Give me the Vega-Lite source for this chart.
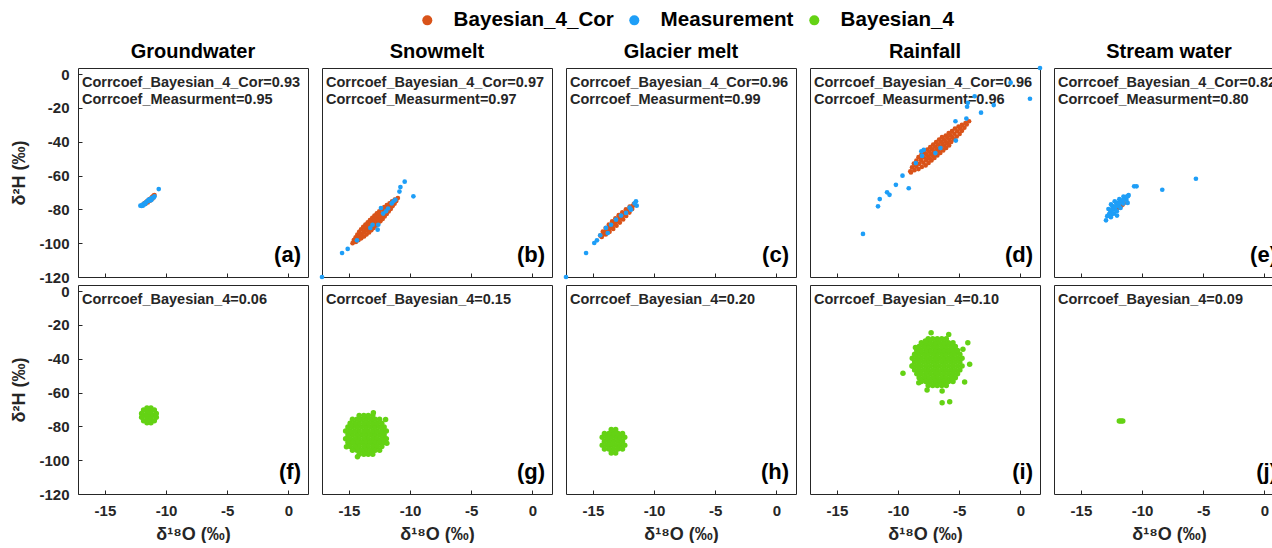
{
"$schema":"https://vega.github.io/schema/vega-lite/v6.json",
"padding":{"left":10,"top":10,"right":0,"bottom":0},
"config":{"font":"Liberation Sans","view":{"stroke":"#262626","strokeWidth":1},
"axis":{"grid":false,"domain":false,"labelFontSize":15,"labelFontWeight":"bold","labelColor":"#262626","labelFlush":false,"labelOverlap":false,"tickSize":-4,"tickColor":"#262626","labelPadding":13,"titleFontSize":18,"titleFontWeight":"bold","titleColor":"#262626"},
"axisY":{"titlePadding":10},"axisX":{"titlePadding":7}},
"datasets":{"d":[
{"source":"Groundwater","series":"Bayesian_4_Cor","x":-11.85,"y":-77.0},
{"source":"Groundwater","series":"Bayesian_4_Cor","x":-11.75,"y":-76.3},
{"source":"Groundwater","series":"Bayesian_4_Cor","x":-11.7,"y":-76.8},
{"source":"Groundwater","series":"Bayesian_4_Cor","x":-11.6,"y":-75.6},
{"source":"Groundwater","series":"Bayesian_4_Cor","x":-11.55,"y":-75.2},
{"source":"Groundwater","series":"Bayesian_4_Cor","x":-11.5,"y":-75.9},
{"source":"Groundwater","series":"Bayesian_4_Cor","x":-11.4,"y":-74.6},
{"source":"Groundwater","series":"Bayesian_4_Cor","x":-11.35,"y":-74.0},
{"source":"Groundwater","series":"Bayesian_4_Cor","x":-11.3,"y":-74.8},
{"source":"Groundwater","series":"Bayesian_4_Cor","x":-11.2,"y":-73.4},
{"source":"Groundwater","series":"Bayesian_4_Cor","x":-11.15,"y":-72.8},
{"source":"Groundwater","series":"Bayesian_4_Cor","x":-11.1,"y":-73.6},
{"source":"Groundwater","series":"Bayesian_4_Cor","x":-11.05,"y":-72.2},
{"source":"Groundwater","series":"Bayesian_4_Cor","x":-10.95,"y":-71.5},
{"source":"Groundwater","series":"Bayesian_4_Cor","x":-11.0,"y":-71.9},
{"source":"Groundwater","series":"Measurement","x":-10.6,"y":-68.0},
{"source":"Groundwater","series":"Measurement","x":-10.95,"y":-72.3},
{"source":"Groundwater","series":"Measurement","x":-11.15,"y":-73.2},
{"source":"Groundwater","series":"Measurement","x":-11.3,"y":-74.0},
{"source":"Groundwater","series":"Measurement","x":-11.45,"y":-74.4},
{"source":"Groundwater","series":"Measurement","x":-11.55,"y":-75.4},
{"source":"Groundwater","series":"Measurement","x":-11.65,"y":-75.8},
{"source":"Groundwater","series":"Measurement","x":-11.8,"y":-76.6},
{"source":"Groundwater","series":"Measurement","x":-11.95,"y":-77.3},
{"source":"Groundwater","series":"Measurement","x":-12.1,"y":-77.8},
{"source":"Groundwater","series":"Measurement","x":-12.0,"y":-78.0},
{"source":"Groundwater","series":"Measurement","x":-11.9,"y":-77.8},
{"source":"Groundwater","series":"Measurement","x":-11.4,"y":-75.0},
{"source":"Groundwater","series":"Measurement","x":-11.2,"y":-74.5},
{"source":"Groundwater","series":"Measurement","x":-11.0,"y":-73.0},
{"source":"Groundwater","series":"Measurement","x":-11.7,"y":-76.9},
{"source":"Snowmelt","series":"Bayesian_4_Cor","x":-14.70,"y":-100.00},
{"source":"Snowmelt","series":"Bayesian_4_Cor","x":-14.60,"y":-98.11},
{"source":"Snowmelt","series":"Bayesian_4_Cor","x":-14.43,"y":-99.23},
{"source":"Snowmelt","series":"Bayesian_4_Cor","x":-14.45,"y":-96.49},
{"source":"Snowmelt","series":"Bayesian_4_Cor","x":-14.33,"y":-97.33},
{"source":"Snowmelt","series":"Bayesian_4_Cor","x":-14.21,"y":-98.17},
{"source":"Snowmelt","series":"Bayesian_4_Cor","x":-14.31,"y":-94.88},
{"source":"Snowmelt","series":"Bayesian_4_Cor","x":-14.15,"y":-96.00},
{"source":"Snowmelt","series":"Bayesian_4_Cor","x":-13.99,"y":-97.12},
{"source":"Snowmelt","series":"Bayesian_4_Cor","x":-14.16,"y":-93.26},
{"source":"Snowmelt","series":"Bayesian_4_Cor","x":-13.96,"y":-94.66},
{"source":"Snowmelt","series":"Bayesian_4_Cor","x":-13.76,"y":-96.06},
{"source":"Snowmelt","series":"Bayesian_4_Cor","x":-14.00,"y":-91.79},
{"source":"Snowmelt","series":"Bayesian_4_Cor","x":-13.78,"y":-93.33},
{"source":"Snowmelt","series":"Bayesian_4_Cor","x":-13.56,"y":-94.87},
{"source":"Snowmelt","series":"Bayesian_4_Cor","x":-13.83,"y":-90.31},
{"source":"Snowmelt","series":"Bayesian_4_Cor","x":-13.67,"y":-91.43},
{"source":"Snowmelt","series":"Bayesian_4_Cor","x":-13.51,"y":-92.55},
{"source":"Snowmelt","series":"Bayesian_4_Cor","x":-13.35,"y":-93.67},
{"source":"Snowmelt","series":"Bayesian_4_Cor","x":-13.65,"y":-88.98},
{"source":"Snowmelt","series":"Bayesian_4_Cor","x":-13.49,"y":-90.10},
{"source":"Snowmelt","series":"Bayesian_4_Cor","x":-13.33,"y":-91.22},
{"source":"Snowmelt","series":"Bayesian_4_Cor","x":-13.17,"y":-92.34},
{"source":"Snowmelt","series":"Bayesian_4_Cor","x":-13.46,"y":-87.64},
{"source":"Snowmelt","series":"Bayesian_4_Cor","x":-13.30,"y":-88.76},
{"source":"Snowmelt","series":"Bayesian_4_Cor","x":-13.14,"y":-89.88},
{"source":"Snowmelt","series":"Bayesian_4_Cor","x":-12.98,"y":-91.00},
{"source":"Snowmelt","series":"Bayesian_4_Cor","x":-13.28,"y":-86.31},
{"source":"Snowmelt","series":"Bayesian_4_Cor","x":-13.12,"y":-87.43},
{"source":"Snowmelt","series":"Bayesian_4_Cor","x":-12.96,"y":-88.55},
{"source":"Snowmelt","series":"Bayesian_4_Cor","x":-12.80,"y":-89.67},
{"source":"Snowmelt","series":"Bayesian_4_Cor","x":-13.09,"y":-84.97},
{"source":"Snowmelt","series":"Bayesian_4_Cor","x":-12.93,"y":-86.09},
{"source":"Snowmelt","series":"Bayesian_4_Cor","x":-12.77,"y":-87.21},
{"source":"Snowmelt","series":"Bayesian_4_Cor","x":-12.61,"y":-88.33},
{"source":"Snowmelt","series":"Bayesian_4_Cor","x":-12.91,"y":-83.64},
{"source":"Snowmelt","series":"Bayesian_4_Cor","x":-12.75,"y":-84.76},
{"source":"Snowmelt","series":"Bayesian_4_Cor","x":-12.59,"y":-85.88},
{"source":"Snowmelt","series":"Bayesian_4_Cor","x":-12.43,"y":-87.00},
{"source":"Snowmelt","series":"Bayesian_4_Cor","x":-12.72,"y":-82.30},
{"source":"Snowmelt","series":"Bayesian_4_Cor","x":-12.56,"y":-83.42},
{"source":"Snowmelt","series":"Bayesian_4_Cor","x":-12.40,"y":-84.54},
{"source":"Snowmelt","series":"Bayesian_4_Cor","x":-12.24,"y":-85.66},
{"source":"Snowmelt","series":"Bayesian_4_Cor","x":-12.52,"y":-81.11},
{"source":"Snowmelt","series":"Bayesian_4_Cor","x":-12.30,"y":-82.65},
{"source":"Snowmelt","series":"Bayesian_4_Cor","x":-12.08,"y":-84.19},
{"source":"Snowmelt","series":"Bayesian_4_Cor","x":-12.31,"y":-79.91},
{"source":"Snowmelt","series":"Bayesian_4_Cor","x":-12.11,"y":-81.31},
{"source":"Snowmelt","series":"Bayesian_4_Cor","x":-11.91,"y":-82.71},
{"source":"Snowmelt","series":"Bayesian_4_Cor","x":-12.11,"y":-78.72},
{"source":"Snowmelt","series":"Bayesian_4_Cor","x":-11.93,"y":-79.98},
{"source":"Snowmelt","series":"Bayesian_4_Cor","x":-11.75,"y":-81.24},
{"source":"Snowmelt","series":"Bayesian_4_Cor","x":-11.90,"y":-77.52},
{"source":"Snowmelt","series":"Bayesian_4_Cor","x":-11.74,"y":-78.64},
{"source":"Snowmelt","series":"Bayesian_4_Cor","x":-11.58,"y":-79.76},
{"source":"Snowmelt","series":"Bayesian_4_Cor","x":-11.68,"y":-76.47},
{"source":"Snowmelt","series":"Bayesian_4_Cor","x":-11.56,"y":-77.31},
{"source":"Snowmelt","series":"Bayesian_4_Cor","x":-11.44,"y":-78.15},
{"source":"Snowmelt","series":"Bayesian_4_Cor","x":-11.47,"y":-75.27},
{"source":"Snowmelt","series":"Bayesian_4_Cor","x":-11.27,"y":-76.67},
{"source":"Snowmelt","series":"Bayesian_4_Cor","x":-11.25,"y":-74.22},
{"source":"Snowmelt","series":"Bayesian_4_Cor","x":-11.13,"y":-75.06},
{"source":"Snowmelt","series":"Bayesian_4_Cor","x":-11.00,"y":-73.30},
{"source":"Snowmelt","series":"Measurement","x":-10.44,"y":-63.6},
{"source":"Snowmelt","series":"Measurement","x":-10.79,"y":-66.8},
{"source":"Snowmelt","series":"Measurement","x":-10.87,"y":-69.5},
{"source":"Snowmelt","series":"Measurement","x":-9.73,"y":-72.3},
{"source":"Snowmelt","series":"Measurement","x":-11.2,"y":-74.3},
{"source":"Snowmelt","series":"Measurement","x":-12.38,"y":-79.2},
{"source":"Snowmelt","series":"Measurement","x":-11.97,"y":-81.1},
{"source":"Snowmelt","series":"Measurement","x":-12.6,"y":-89.1},
{"source":"Snowmelt","series":"Measurement","x":-12.65,"y":-92.0},
{"source":"Snowmelt","series":"Measurement","x":-13.07,"y":-89.1},
{"source":"Snowmelt","series":"Measurement","x":-13.25,"y":-91.0},
{"source":"Snowmelt","series":"Measurement","x":-14.34,"y":-98.3},
{"source":"Snowmelt","series":"Measurement","x":-15.1,"y":-103.4},
{"source":"Snowmelt","series":"Measurement","x":-15.56,"y":-105.8},
{"source":"Snowmelt","series":"Measurement","x":-17.2,"y":-120},
{"source":"Snowmelt","series":"Measurement","x":-11.8,"y":-79.5},
{"source":"Snowmelt","series":"Measurement","x":-12.2,"y":-82.5},
{"source":"Snowmelt","series":"Measurement","x":-11.5,"y":-76.5},
{"source":"Snowmelt","series":"Measurement","x":-11.35,"y":-75.2},
{"source":"Glacier melt","series":"Bayesian_4_Cor","x":-14.40,"y":-95.48},
{"source":"Glacier melt","series":"Bayesian_4_Cor","x":-14.28,"y":-96.32},
{"source":"Glacier melt","series":"Bayesian_4_Cor","x":-14.19,"y":-93.19},
{"source":"Glacier melt","series":"Bayesian_4_Cor","x":-14.07,"y":-94.03},
{"source":"Glacier melt","series":"Bayesian_4_Cor","x":-13.95,"y":-94.87},
{"source":"Glacier melt","series":"Bayesian_4_Cor","x":-13.96,"y":-91.04},
{"source":"Glacier melt","series":"Bayesian_4_Cor","x":-13.80,"y":-92.16},
{"source":"Glacier melt","series":"Bayesian_4_Cor","x":-13.64,"y":-93.28},
{"source":"Glacier melt","series":"Bayesian_4_Cor","x":-13.70,"y":-89.03},
{"source":"Glacier melt","series":"Bayesian_4_Cor","x":-13.58,"y":-89.87},
{"source":"Glacier melt","series":"Bayesian_4_Cor","x":-13.46,"y":-90.71},
{"source":"Glacier melt","series":"Bayesian_4_Cor","x":-13.34,"y":-91.55},
{"source":"Glacier melt","series":"Bayesian_4_Cor","x":-13.43,"y":-87.16},
{"source":"Glacier melt","series":"Bayesian_4_Cor","x":-13.31,"y":-88.00},
{"source":"Glacier melt","series":"Bayesian_4_Cor","x":-13.19,"y":-88.84},
{"source":"Glacier melt","series":"Bayesian_4_Cor","x":-13.07,"y":-89.68},
{"source":"Glacier melt","series":"Bayesian_4_Cor","x":-13.16,"y":-85.29},
{"source":"Glacier melt","series":"Bayesian_4_Cor","x":-13.04,"y":-86.13},
{"source":"Glacier melt","series":"Bayesian_4_Cor","x":-12.92,"y":-86.97},
{"source":"Glacier melt","series":"Bayesian_4_Cor","x":-12.80,"y":-87.81},
{"source":"Glacier melt","series":"Bayesian_4_Cor","x":-12.89,"y":-83.42},
{"source":"Glacier melt","series":"Bayesian_4_Cor","x":-12.77,"y":-84.26},
{"source":"Glacier melt","series":"Bayesian_4_Cor","x":-12.65,"y":-85.10},
{"source":"Glacier melt","series":"Bayesian_4_Cor","x":-12.53,"y":-85.94},
{"source":"Glacier melt","series":"Bayesian_4_Cor","x":-12.60,"y":-81.69},
{"source":"Glacier melt","series":"Bayesian_4_Cor","x":-12.44,"y":-82.81},
{"source":"Glacier melt","series":"Bayesian_4_Cor","x":-12.28,"y":-83.93},
{"source":"Glacier melt","series":"Bayesian_4_Cor","x":-12.30,"y":-79.96},
{"source":"Glacier melt","series":"Bayesian_4_Cor","x":-12.16,"y":-80.94},
{"source":"Glacier melt","series":"Bayesian_4_Cor","x":-12.02,"y":-81.92},
{"source":"Glacier melt","series":"Bayesian_4_Cor","x":-11.99,"y":-78.37},
{"source":"Glacier melt","series":"Bayesian_4_Cor","x":-11.79,"y":-79.77},
{"source":"Glacier melt","series":"Bayesian_4_Cor","x":-11.62,"y":-77.20},
{"source":"Glacier melt","series":"Bayesian_4_Cor","x":-11.66,"y":-76.90},
{"source":"Glacier melt","series":"Bayesian_4_Cor","x":-14.20,"y":-94.97},
{"source":"Glacier melt","series":"Bayesian_4_Cor","x":-13.93,"y":-93.10},
{"source":"Glacier melt","series":"Bayesian_4_Cor","x":-13.66,"y":-91.23},
{"source":"Glacier melt","series":"Bayesian_4_Cor","x":-13.39,"y":-89.36},
{"source":"Glacier melt","series":"Bayesian_4_Cor","x":-13.12,"y":-87.49},
{"source":"Glacier melt","series":"Bayesian_4_Cor","x":-12.84,"y":-85.62},
{"source":"Glacier melt","series":"Bayesian_4_Cor","x":-12.57,"y":-83.75},
{"source":"Glacier melt","series":"Bayesian_4_Cor","x":-12.30,"y":-81.88},
{"source":"Glacier melt","series":"Bayesian_4_Cor","x":-12.03,"y":-80.01},
{"source":"Glacier melt","series":"Bayesian_4_Cor","x":-11.76,"y":-78.14},
{"source":"Glacier melt","series":"Measurement","x":-15.56,"y":-105.8},
{"source":"Glacier melt","series":"Measurement","x":-14.89,"y":-99.9},
{"source":"Glacier melt","series":"Measurement","x":-14.67,"y":-98.3},
{"source":"Glacier melt","series":"Measurement","x":-14.40,"y":-95.3},
{"source":"Glacier melt","series":"Measurement","x":-13.93,"y":-91.0},
{"source":"Glacier melt","series":"Measurement","x":-13.52,"y":-89.1},
{"source":"Glacier melt","series":"Measurement","x":-13.11,"y":-86.1},
{"source":"Glacier melt","series":"Measurement","x":-12.70,"y":-83.7},
{"source":"Glacier melt","series":"Measurement","x":-12.29,"y":-82.1},
{"source":"Glacier melt","series":"Measurement","x":-11.89,"y":-80.2},
{"source":"Glacier melt","series":"Measurement","x":-11.48,"y":-75.2},
{"source":"Glacier melt","series":"Measurement","x":-11.42,"y":-77.8},
{"source":"Glacier melt","series":"Measurement","x":-13.79,"y":-94.0},
{"source":"Glacier melt","series":"Measurement","x":-17.2,"y":-120},
{"source":"Glacier melt","series":"Measurement","x":-12.0,"y":-79.0},
{"source":"Glacier melt","series":"Measurement","x":-11.6,"y":-76.5},
{"source":"Rainfall","series":"Bayesian_4_Cor","x":-9.00,"y":-57.50},
{"source":"Rainfall","series":"Bayesian_4_Cor","x":-8.95,"y":-58.20},
{"source":"Rainfall","series":"Bayesian_4_Cor","x":-8.86,"y":-55.21},
{"source":"Rainfall","series":"Bayesian_4_Cor","x":-8.66,"y":-56.83},
{"source":"Rainfall","series":"Bayesian_4_Cor","x":-8.71,"y":-52.92},
{"source":"Rainfall","series":"Bayesian_4_Cor","x":-8.52,"y":-54.54},
{"source":"Rainfall","series":"Bayesian_4_Cor","x":-8.33,"y":-56.16},
{"source":"Rainfall","series":"Bayesian_4_Cor","x":-8.50,"y":-51.17},
{"source":"Rainfall","series":"Bayesian_4_Cor","x":-8.28,"y":-53.06},
{"source":"Rainfall","series":"Bayesian_4_Cor","x":-8.06,"y":-54.95},
{"source":"Rainfall","series":"Bayesian_4_Cor","x":-8.33,"y":-49.15},
{"source":"Rainfall","series":"Bayesian_4_Cor","x":-8.14,"y":-50.77},
{"source":"Rainfall","series":"Bayesian_4_Cor","x":-7.94,"y":-52.39},
{"source":"Rainfall","series":"Bayesian_4_Cor","x":-7.75,"y":-54.01},
{"source":"Rainfall","series":"Bayesian_4_Cor","x":-8.09,"y":-47.67},
{"source":"Rainfall","series":"Bayesian_4_Cor","x":-7.90,"y":-49.29},
{"source":"Rainfall","series":"Bayesian_4_Cor","x":-7.70,"y":-50.91},
{"source":"Rainfall","series":"Bayesian_4_Cor","x":-7.51,"y":-52.53},
{"source":"Rainfall","series":"Bayesian_4_Cor","x":-7.85,"y":-46.19},
{"source":"Rainfall","series":"Bayesian_4_Cor","x":-7.70,"y":-47.40},
{"source":"Rainfall","series":"Bayesian_4_Cor","x":-7.56,"y":-48.62},
{"source":"Rainfall","series":"Bayesian_4_Cor","x":-7.42,"y":-49.84},
{"source":"Rainfall","series":"Bayesian_4_Cor","x":-7.27,"y":-51.05},
{"source":"Rainfall","series":"Bayesian_4_Cor","x":-7.61,"y":-44.71},
{"source":"Rainfall","series":"Bayesian_4_Cor","x":-7.46,"y":-45.92},
{"source":"Rainfall","series":"Bayesian_4_Cor","x":-7.32,"y":-47.14},
{"source":"Rainfall","series":"Bayesian_4_Cor","x":-7.18,"y":-48.36},
{"source":"Rainfall","series":"Bayesian_4_Cor","x":-7.03,"y":-49.57},
{"source":"Rainfall","series":"Bayesian_4_Cor","x":-7.37,"y":-43.23},
{"source":"Rainfall","series":"Bayesian_4_Cor","x":-7.22,"y":-44.44},
{"source":"Rainfall","series":"Bayesian_4_Cor","x":-7.08,"y":-45.66},
{"source":"Rainfall","series":"Bayesian_4_Cor","x":-6.94,"y":-46.88},
{"source":"Rainfall","series":"Bayesian_4_Cor","x":-6.79,"y":-48.09},
{"source":"Rainfall","series":"Bayesian_4_Cor","x":-7.13,"y":-41.75},
{"source":"Rainfall","series":"Bayesian_4_Cor","x":-6.98,"y":-42.96},
{"source":"Rainfall","series":"Bayesian_4_Cor","x":-6.84,"y":-44.18},
{"source":"Rainfall","series":"Bayesian_4_Cor","x":-6.70,"y":-45.40},
{"source":"Rainfall","series":"Bayesian_4_Cor","x":-6.55,"y":-46.61},
{"source":"Rainfall","series":"Bayesian_4_Cor","x":-6.89,"y":-40.27},
{"source":"Rainfall","series":"Bayesian_4_Cor","x":-6.74,"y":-41.48},
{"source":"Rainfall","series":"Bayesian_4_Cor","x":-6.60,"y":-42.70},
{"source":"Rainfall","series":"Bayesian_4_Cor","x":-6.46,"y":-43.92},
{"source":"Rainfall","series":"Bayesian_4_Cor","x":-6.31,"y":-45.13},
{"source":"Rainfall","series":"Bayesian_4_Cor","x":-6.65,"y":-38.79},
{"source":"Rainfall","series":"Bayesian_4_Cor","x":-6.50,"y":-40.00},
{"source":"Rainfall","series":"Bayesian_4_Cor","x":-6.36,"y":-41.22},
{"source":"Rainfall","series":"Bayesian_4_Cor","x":-6.22,"y":-42.44},
{"source":"Rainfall","series":"Bayesian_4_Cor","x":-6.07,"y":-43.65},
{"source":"Rainfall","series":"Bayesian_4_Cor","x":-6.41,"y":-37.31},
{"source":"Rainfall","series":"Bayesian_4_Cor","x":-6.26,"y":-38.52},
{"source":"Rainfall","series":"Bayesian_4_Cor","x":-6.12,"y":-39.74},
{"source":"Rainfall","series":"Bayesian_4_Cor","x":-5.98,"y":-40.96},
{"source":"Rainfall","series":"Bayesian_4_Cor","x":-5.83,"y":-42.17},
{"source":"Rainfall","series":"Bayesian_4_Cor","x":-6.10,"y":-36.37},
{"source":"Rainfall","series":"Bayesian_4_Cor","x":-5.96,"y":-37.58},
{"source":"Rainfall","series":"Bayesian_4_Cor","x":-5.80,"y":-38.94},
{"source":"Rainfall","series":"Bayesian_4_Cor","x":-5.66,"y":-40.15},
{"source":"Rainfall","series":"Bayesian_4_Cor","x":-5.86,"y":-34.89},
{"source":"Rainfall","series":"Bayesian_4_Cor","x":-5.72,"y":-36.10},
{"source":"Rainfall","series":"Bayesian_4_Cor","x":-5.56,"y":-37.46},
{"source":"Rainfall","series":"Bayesian_4_Cor","x":-5.42,"y":-38.67},
{"source":"Rainfall","series":"Bayesian_4_Cor","x":-5.59,"y":-33.68},
{"source":"Rainfall","series":"Bayesian_4_Cor","x":-5.40,"y":-35.30},
{"source":"Rainfall","series":"Bayesian_4_Cor","x":-5.21,"y":-36.92},
{"source":"Rainfall","series":"Bayesian_4_Cor","x":-5.35,"y":-32.20},
{"source":"Rainfall","series":"Bayesian_4_Cor","x":-5.16,"y":-33.82},
{"source":"Rainfall","series":"Bayesian_4_Cor","x":-4.97,"y":-35.44},
{"source":"Rainfall","series":"Bayesian_4_Cor","x":-5.06,"y":-31.12},
{"source":"Rainfall","series":"Bayesian_4_Cor","x":-4.92,"y":-32.34},
{"source":"Rainfall","series":"Bayesian_4_Cor","x":-4.78,"y":-33.56},
{"source":"Rainfall","series":"Bayesian_4_Cor","x":-4.78,"y":-30.05},
{"source":"Rainfall","series":"Bayesian_4_Cor","x":-4.58,"y":-31.67},
{"source":"Rainfall","series":"Bayesian_4_Cor","x":-4.49,"y":-29.00},
{"source":"Rainfall","series":"Bayesian_4_Cor","x":-4.39,"y":-29.80},
{"source":"Rainfall","series":"Bayesian_4_Cor","x":-4.20,"y":-27.90},
{"source":"Rainfall","series":"Measurement","x":-12.87,"y":-94.5},
{"source":"Rainfall","series":"Measurement","x":-11.64,"y":-78.2},
{"source":"Rainfall","series":"Measurement","x":-11.5,"y":-73.9},
{"source":"Rainfall","series":"Measurement","x":-10.9,"y":-69.9},
{"source":"Rainfall","series":"Measurement","x":-10.7,"y":-71.4},
{"source":"Rainfall","series":"Measurement","x":-10.18,"y":-65.5},
{"source":"Rainfall","series":"Measurement","x":-9.64,"y":-60.1},
{"source":"Rainfall","series":"Measurement","x":-9.13,"y":-67.5},
{"source":"Rainfall","series":"Measurement","x":-8.55,"y":-52.6},
{"source":"Rainfall","series":"Measurement","x":-8.1,"y":-45.7},
{"source":"Rainfall","series":"Measurement","x":-8.04,"y":-48.4},
{"source":"Rainfall","series":"Measurement","x":-7.9,"y":-44.8},
{"source":"Rainfall","series":"Measurement","x":-6.95,"y":-46.7},
{"source":"Rainfall","series":"Measurement","x":-6.54,"y":-43.7},
{"source":"Rainfall","series":"Measurement","x":-5.31,"y":-27.9},
{"source":"Rainfall","series":"Measurement","x":-5.28,"y":-39.3},
{"source":"Rainfall","series":"Measurement","x":-4.42,"y":-26.3},
{"source":"Rainfall","series":"Measurement","x":-4.36,"y":-19.3},
{"source":"Rainfall","series":"Measurement","x":-4.3,"y":-17.0},
{"source":"Rainfall","series":"Measurement","x":-3.74,"y":-13.1},
{"source":"Rainfall","series":"Measurement","x":-3.22,"y":-22.8},
{"source":"Rainfall","series":"Measurement","x":-2.18,"y":-18.3},
{"source":"Rainfall","series":"Measurement","x":-0.8,"y":-5.1},
{"source":"Rainfall","series":"Measurement","x":0.78,"y":-14.6},
{"source":"Rainfall","series":"Measurement","x":1.6,"y":3.6},
{"source":"Stream water","series":"Bayesian_4_Cor","x":-11.6,"y":-77.2},
{"source":"Stream water","series":"Bayesian_4_Cor","x":-11.8,"y":-78.3},
{"source":"Stream water","series":"Bayesian_4_Cor","x":-11.5,"y":-76.4},
{"source":"Stream water","series":"Bayesian_4_Cor","x":-11.9,"y":-79.0},
{"source":"Stream water","series":"Bayesian_4_Cor","x":-11.7,"y":-77.8},
{"source":"Stream water","series":"Measurement","x":-12.95,"y":-86.5},
{"source":"Stream water","series":"Measurement","x":-12.55,"y":-84.6},
{"source":"Stream water","series":"Measurement","x":-12.05,"y":-83.7},
{"source":"Stream water","series":"Measurement","x":-12.5,"y":-83.2},
{"source":"Stream water","series":"Measurement","x":-12.3,"y":-82.5},
{"source":"Stream water","series":"Measurement","x":-12.6,"y":-81.0},
{"source":"Stream water","series":"Measurement","x":-12.75,"y":-79.8},
{"source":"Stream water","series":"Measurement","x":-12.45,"y":-82.2},
{"source":"Stream water","series":"Measurement","x":-12.54,"y":-77.1},
{"source":"Stream water","series":"Measurement","x":-12.42,"y":-78.1},
{"source":"Stream water","series":"Measurement","x":-12.3,"y":-79.1},
{"source":"Stream water","series":"Measurement","x":-12.18,"y":-80.1},
{"source":"Stream water","series":"Measurement","x":-12.06,"y":-81.1},
{"source":"Stream water","series":"Measurement","x":-12.24,"y":-75.2},
{"source":"Stream water","series":"Measurement","x":-12.12,"y":-76.2},
{"source":"Stream water","series":"Measurement","x":-12.0,"y":-77.2},
{"source":"Stream water","series":"Measurement","x":-11.88,"y":-78.2},
{"source":"Stream water","series":"Measurement","x":-11.76,"y":-79.2},
{"source":"Stream water","series":"Measurement","x":-11.86,"y":-74.0},
{"source":"Stream water","series":"Measurement","x":-11.7,"y":-75.3},
{"source":"Stream water","series":"Measurement","x":-11.54,"y":-76.6},
{"source":"Stream water","series":"Measurement","x":-11.8,"y":-74.6},
{"source":"Stream water","series":"Measurement","x":-11.52,"y":-72.4},
{"source":"Stream water","series":"Measurement","x":-11.4,"y":-73.4},
{"source":"Stream water","series":"Measurement","x":-11.28,"y":-74.4},
{"source":"Stream water","series":"Measurement","x":-11.1,"y":-71.5},
{"source":"Stream water","series":"Measurement","x":-11.15,"y":-72.2},
{"source":"Stream water","series":"Measurement","x":-12.45,"y":-80.05},
{"source":"Stream water","series":"Measurement","x":-12.15,"y":-78.15},
{"source":"Stream water","series":"Measurement","x":-11.85,"y":-76.25},
{"source":"Stream water","series":"Measurement","x":-11.55,"y":-74.35},
{"source":"Stream water","series":"Measurement","x":-11.25,"y":-72.45},
{"source":"Stream water","series":"Measurement","x":-11.18,"y":-76.2},
{"source":"Stream water","series":"Measurement","x":-12.7,"y":-82.8},
{"source":"Stream water","series":"Measurement","x":-12.85,"y":-84.0},
{"source":"Stream water","series":"Measurement","x":-10.65,"y":-66.4},
{"source":"Stream water","series":"Measurement","x":-10.45,"y":-66.4},
{"source":"Stream water","series":"Measurement","x":-8.35,"y":-68.4},
{"source":"Stream water","series":"Measurement","x":-5.6,"y":-61.9},
{"source":"Groundwater","series":"Bayesian_4","x":-11.4,"y":-73.5},
{"source":"Groundwater","series":"Bayesian_4","x":-11.07,"y":-73.5},
{"source":"Groundwater","series":"Bayesian_4","x":-11.24,"y":-71.45},
{"source":"Groundwater","series":"Bayesian_4","x":-11.56,"y":-71.45},
{"source":"Groundwater","series":"Bayesian_4","x":-11.73,"y":-73.5},
{"source":"Groundwater","series":"Bayesian_4","x":-11.56,"y":-75.55},
{"source":"Groundwater","series":"Bayesian_4","x":-11.24,"y":-75.55},
{"source":"Groundwater","series":"Bayesian_4","x":-10.80,"y":-72.34},
{"source":"Groundwater","series":"Bayesian_4","x":-10.96,"y":-70.34},
{"source":"Groundwater","series":"Bayesian_4","x":-11.24,"y":-69.18},
{"source":"Groundwater","series":"Bayesian_4","x":-11.56,"y":-69.18},
{"source":"Groundwater","series":"Bayesian_4","x":-11.84,"y":-70.34},
{"source":"Groundwater","series":"Bayesian_4","x":-12.0,"y":-72.34},
{"source":"Groundwater","series":"Bayesian_4","x":-12.0,"y":-74.66},
{"source":"Groundwater","series":"Bayesian_4","x":-11.84,"y":-76.66},
{"source":"Groundwater","series":"Bayesian_4","x":-11.56,"y":-77.82},
{"source":"Groundwater","series":"Bayesian_4","x":-11.24,"y":-77.82},
{"source":"Groundwater","series":"Bayesian_4","x":-10.96,"y":-76.66},
{"source":"Groundwater","series":"Bayesian_4","x":-10.80,"y":-74.66},
{"source":"Snowmelt","series":"Bayesian_4","x":-13.6,"y":-85},
{"source":"Snowmelt","series":"Bayesian_4","x":-13.23,"y":-85},
{"source":"Snowmelt","series":"Bayesian_4","x":-13.97,"y":-85},
{"source":"Snowmelt","series":"Bayesian_4","x":-12.86,"y":-85},
{"source":"Snowmelt","series":"Bayesian_4","x":-14.34,"y":-85},
{"source":"Snowmelt","series":"Bayesian_4","x":-12.49,"y":-85},
{"source":"Snowmelt","series":"Bayesian_4","x":-14.71,"y":-85},
{"source":"Snowmelt","series":"Bayesian_4","x":-12.12,"y":-85},
{"source":"Snowmelt","series":"Bayesian_4","x":-15.08,"y":-85},
{"source":"Snowmelt","series":"Bayesian_4","x":-13.42,"y":-82.7},
{"source":"Snowmelt","series":"Bayesian_4","x":-13.78,"y":-82.7},
{"source":"Snowmelt","series":"Bayesian_4","x":-13.05,"y":-82.7},
{"source":"Snowmelt","series":"Bayesian_4","x":-14.16,"y":-82.7},
{"source":"Snowmelt","series":"Bayesian_4","x":-12.68,"y":-82.7},
{"source":"Snowmelt","series":"Bayesian_4","x":-14.53,"y":-82.7},
{"source":"Snowmelt","series":"Bayesian_4","x":-12.31,"y":-82.7},
{"source":"Snowmelt","series":"Bayesian_4","x":-14.9,"y":-82.7},
{"source":"Snowmelt","series":"Bayesian_4","x":-11.94,"y":-82.7},
{"source":"Snowmelt","series":"Bayesian_4","x":-15.27,"y":-82.7},
{"source":"Snowmelt","series":"Bayesian_4","x":-13.42,"y":-87.3},
{"source":"Snowmelt","series":"Bayesian_4","x":-13.78,"y":-87.3},
{"source":"Snowmelt","series":"Bayesian_4","x":-13.05,"y":-87.3},
{"source":"Snowmelt","series":"Bayesian_4","x":-14.16,"y":-87.3},
{"source":"Snowmelt","series":"Bayesian_4","x":-12.68,"y":-87.3},
{"source":"Snowmelt","series":"Bayesian_4","x":-14.53,"y":-87.3},
{"source":"Snowmelt","series":"Bayesian_4","x":-12.31,"y":-87.3},
{"source":"Snowmelt","series":"Bayesian_4","x":-14.9,"y":-87.3},
{"source":"Snowmelt","series":"Bayesian_4","x":-11.94,"y":-87.3},
{"source":"Snowmelt","series":"Bayesian_4","x":-15.27,"y":-87.3},
{"source":"Snowmelt","series":"Bayesian_4","x":-13.6,"y":-80.4},
{"source":"Snowmelt","series":"Bayesian_4","x":-13.23,"y":-80.4},
{"source":"Snowmelt","series":"Bayesian_4","x":-13.97,"y":-80.4},
{"source":"Snowmelt","series":"Bayesian_4","x":-12.86,"y":-80.4},
{"source":"Snowmelt","series":"Bayesian_4","x":-14.34,"y":-80.4},
{"source":"Snowmelt","series":"Bayesian_4","x":-12.49,"y":-80.4},
{"source":"Snowmelt","series":"Bayesian_4","x":-14.71,"y":-80.4},
{"source":"Snowmelt","series":"Bayesian_4","x":-12.12,"y":-80.4},
{"source":"Snowmelt","series":"Bayesian_4","x":-15.08,"y":-80.4},
{"source":"Snowmelt","series":"Bayesian_4","x":-13.6,"y":-89.6},
{"source":"Snowmelt","series":"Bayesian_4","x":-13.23,"y":-89.6},
{"source":"Snowmelt","series":"Bayesian_4","x":-13.97,"y":-89.6},
{"source":"Snowmelt","series":"Bayesian_4","x":-12.86,"y":-89.6},
{"source":"Snowmelt","series":"Bayesian_4","x":-14.34,"y":-89.6},
{"source":"Snowmelt","series":"Bayesian_4","x":-12.49,"y":-89.6},
{"source":"Snowmelt","series":"Bayesian_4","x":-14.71,"y":-89.6},
{"source":"Snowmelt","series":"Bayesian_4","x":-12.12,"y":-89.6},
{"source":"Snowmelt","series":"Bayesian_4","x":-15.08,"y":-89.6},
{"source":"Snowmelt","series":"Bayesian_4","x":-13.42,"y":-78.1},
{"source":"Snowmelt","series":"Bayesian_4","x":-13.78,"y":-78.1},
{"source":"Snowmelt","series":"Bayesian_4","x":-13.05,"y":-78.1},
{"source":"Snowmelt","series":"Bayesian_4","x":-14.16,"y":-78.1},
{"source":"Snowmelt","series":"Bayesian_4","x":-12.68,"y":-78.1},
{"source":"Snowmelt","series":"Bayesian_4","x":-14.53,"y":-78.1},
{"source":"Snowmelt","series":"Bayesian_4","x":-12.31,"y":-78.1},
{"source":"Snowmelt","series":"Bayesian_4","x":-14.9,"y":-78.1},
{"source":"Snowmelt","series":"Bayesian_4","x":-13.42,"y":-91.9},
{"source":"Snowmelt","series":"Bayesian_4","x":-13.78,"y":-91.9},
{"source":"Snowmelt","series":"Bayesian_4","x":-13.05,"y":-91.9},
{"source":"Snowmelt","series":"Bayesian_4","x":-14.16,"y":-91.9},
{"source":"Snowmelt","series":"Bayesian_4","x":-12.68,"y":-91.9},
{"source":"Snowmelt","series":"Bayesian_4","x":-14.53,"y":-91.9},
{"source":"Snowmelt","series":"Bayesian_4","x":-12.31,"y":-91.9},
{"source":"Snowmelt","series":"Bayesian_4","x":-14.9,"y":-91.9},
{"source":"Snowmelt","series":"Bayesian_4","x":-13.6,"y":-75.8},
{"source":"Snowmelt","series":"Bayesian_4","x":-13.23,"y":-75.8},
{"source":"Snowmelt","series":"Bayesian_4","x":-13.97,"y":-75.8},
{"source":"Snowmelt","series":"Bayesian_4","x":-12.86,"y":-75.8},
{"source":"Snowmelt","series":"Bayesian_4","x":-14.34,"y":-75.8},
{"source":"Snowmelt","series":"Bayesian_4","x":-12.49,"y":-75.8},
{"source":"Snowmelt","series":"Bayesian_4","x":-14.71,"y":-75.8},
{"source":"Snowmelt","series":"Bayesian_4","x":-13.6,"y":-94.2},
{"source":"Snowmelt","series":"Bayesian_4","x":-13.23,"y":-94.2},
{"source":"Snowmelt","series":"Bayesian_4","x":-13.97,"y":-94.2},
{"source":"Snowmelt","series":"Bayesian_4","x":-12.86,"y":-94.2},
{"source":"Snowmelt","series":"Bayesian_4","x":-14.34,"y":-94.2},
{"source":"Snowmelt","series":"Bayesian_4","x":-12.49,"y":-94.2},
{"source":"Snowmelt","series":"Bayesian_4","x":-14.71,"y":-94.2},
{"source":"Snowmelt","series":"Bayesian_4","x":-13.42,"y":-73.5},
{"source":"Snowmelt","series":"Bayesian_4","x":-13.78,"y":-73.5},
{"source":"Snowmelt","series":"Bayesian_4","x":-13.05,"y":-73.5},
{"source":"Snowmelt","series":"Bayesian_4","x":-14.16,"y":-73.5},
{"source":"Snowmelt","series":"Bayesian_4","x":-13.42,"y":-96.5},
{"source":"Snowmelt","series":"Bayesian_4","x":-13.78,"y":-96.5},
{"source":"Snowmelt","series":"Bayesian_4","x":-13.05,"y":-96.5},
{"source":"Snowmelt","series":"Bayesian_4","x":-14.16,"y":-96.5},
{"source":"Snowmelt","series":"Bayesian_4","x":-12.0,"y":-76},
{"source":"Snowmelt","series":"Bayesian_4","x":-15.2,"y":-92},
{"source":"Snowmelt","series":"Bayesian_4","x":-13.0,"y":-72},
{"source":"Snowmelt","series":"Bayesian_4","x":-14.8,"y":-79.5},
{"source":"Snowmelt","series":"Bayesian_4","x":-11.9,"y":-90},
{"source":"Snowmelt","series":"Bayesian_4","x":-14.3,"y":-98},
{"source":"Glacier melt","series":"Bayesian_4","x":-13.32,"y":-88.8},
{"source":"Glacier melt","series":"Bayesian_4","x":-12.95,"y":-88.8},
{"source":"Glacier melt","series":"Bayesian_4","x":-13.69,"y":-88.8},
{"source":"Glacier melt","series":"Bayesian_4","x":-12.58,"y":-88.8},
{"source":"Glacier melt","series":"Bayesian_4","x":-14.06,"y":-88.8},
{"source":"Glacier melt","series":"Bayesian_4","x":-13.14,"y":-86.5},
{"source":"Glacier melt","series":"Bayesian_4","x":-13.5,"y":-86.5},
{"source":"Glacier melt","series":"Bayesian_4","x":-12.77,"y":-86.5},
{"source":"Glacier melt","series":"Bayesian_4","x":-13.87,"y":-86.5},
{"source":"Glacier melt","series":"Bayesian_4","x":-12.4,"y":-86.5},
{"source":"Glacier melt","series":"Bayesian_4","x":-14.24,"y":-86.5},
{"source":"Glacier melt","series":"Bayesian_4","x":-13.14,"y":-91.1},
{"source":"Glacier melt","series":"Bayesian_4","x":-13.5,"y":-91.1},
{"source":"Glacier melt","series":"Bayesian_4","x":-12.77,"y":-91.1},
{"source":"Glacier melt","series":"Bayesian_4","x":-13.87,"y":-91.1},
{"source":"Glacier melt","series":"Bayesian_4","x":-12.4,"y":-91.1},
{"source":"Glacier melt","series":"Bayesian_4","x":-14.24,"y":-91.1},
{"source":"Glacier melt","series":"Bayesian_4","x":-13.32,"y":-84.2},
{"source":"Glacier melt","series":"Bayesian_4","x":-12.95,"y":-84.2},
{"source":"Glacier melt","series":"Bayesian_4","x":-13.69,"y":-84.2},
{"source":"Glacier melt","series":"Bayesian_4","x":-12.58,"y":-84.2},
{"source":"Glacier melt","series":"Bayesian_4","x":-14.06,"y":-84.2},
{"source":"Glacier melt","series":"Bayesian_4","x":-13.32,"y":-93.4},
{"source":"Glacier melt","series":"Bayesian_4","x":-12.95,"y":-93.4},
{"source":"Glacier melt","series":"Bayesian_4","x":-13.69,"y":-93.4},
{"source":"Glacier melt","series":"Bayesian_4","x":-12.58,"y":-93.4},
{"source":"Glacier melt","series":"Bayesian_4","x":-14.06,"y":-93.4},
{"source":"Glacier melt","series":"Bayesian_4","x":-13.14,"y":-81.9},
{"source":"Glacier melt","series":"Bayesian_4","x":-13.5,"y":-81.9},
{"source":"Glacier melt","series":"Bayesian_4","x":-13.14,"y":-95.7},
{"source":"Glacier melt","series":"Bayesian_4","x":-13.5,"y":-95.7},
{"source":"Rainfall","series":"Bayesian_4","x":-6.8,"y":-42},
{"source":"Rainfall","series":"Bayesian_4","x":-6.43,"y":-42},
{"source":"Rainfall","series":"Bayesian_4","x":-7.17,"y":-42},
{"source":"Rainfall","series":"Bayesian_4","x":-6.06,"y":-42},
{"source":"Rainfall","series":"Bayesian_4","x":-7.54,"y":-42},
{"source":"Rainfall","series":"Bayesian_4","x":-5.69,"y":-42},
{"source":"Rainfall","series":"Bayesian_4","x":-7.91,"y":-42},
{"source":"Rainfall","series":"Bayesian_4","x":-5.32,"y":-42},
{"source":"Rainfall","series":"Bayesian_4","x":-8.28,"y":-42},
{"source":"Rainfall","series":"Bayesian_4","x":-4.95,"y":-42},
{"source":"Rainfall","series":"Bayesian_4","x":-8.65,"y":-42},
{"source":"Rainfall","series":"Bayesian_4","x":-6.62,"y":-39.7},
{"source":"Rainfall","series":"Bayesian_4","x":-6.98,"y":-39.7},
{"source":"Rainfall","series":"Bayesian_4","x":-6.25,"y":-39.7},
{"source":"Rainfall","series":"Bayesian_4","x":-7.36,"y":-39.7},
{"source":"Rainfall","series":"Bayesian_4","x":-5.88,"y":-39.7},
{"source":"Rainfall","series":"Bayesian_4","x":-7.73,"y":-39.7},
{"source":"Rainfall","series":"Bayesian_4","x":-5.51,"y":-39.7},
{"source":"Rainfall","series":"Bayesian_4","x":-8.1,"y":-39.7},
{"source":"Rainfall","series":"Bayesian_4","x":-5.14,"y":-39.7},
{"source":"Rainfall","series":"Bayesian_4","x":-8.47,"y":-39.7},
{"source":"Rainfall","series":"Bayesian_4","x":-4.77,"y":-39.7},
{"source":"Rainfall","series":"Bayesian_4","x":-8.84,"y":-39.7},
{"source":"Rainfall","series":"Bayesian_4","x":-6.62,"y":-44.3},
{"source":"Rainfall","series":"Bayesian_4","x":-6.98,"y":-44.3},
{"source":"Rainfall","series":"Bayesian_4","x":-6.25,"y":-44.3},
{"source":"Rainfall","series":"Bayesian_4","x":-7.36,"y":-44.3},
{"source":"Rainfall","series":"Bayesian_4","x":-5.88,"y":-44.3},
{"source":"Rainfall","series":"Bayesian_4","x":-7.73,"y":-44.3},
{"source":"Rainfall","series":"Bayesian_4","x":-5.51,"y":-44.3},
{"source":"Rainfall","series":"Bayesian_4","x":-8.1,"y":-44.3},
{"source":"Rainfall","series":"Bayesian_4","x":-5.14,"y":-44.3},
{"source":"Rainfall","series":"Bayesian_4","x":-8.47,"y":-44.3},
{"source":"Rainfall","series":"Bayesian_4","x":-4.77,"y":-44.3},
{"source":"Rainfall","series":"Bayesian_4","x":-8.84,"y":-44.3},
{"source":"Rainfall","series":"Bayesian_4","x":-6.8,"y":-37.4},
{"source":"Rainfall","series":"Bayesian_4","x":-6.43,"y":-37.4},
{"source":"Rainfall","series":"Bayesian_4","x":-7.17,"y":-37.4},
{"source":"Rainfall","series":"Bayesian_4","x":-6.06,"y":-37.4},
{"source":"Rainfall","series":"Bayesian_4","x":-7.54,"y":-37.4},
{"source":"Rainfall","series":"Bayesian_4","x":-5.69,"y":-37.4},
{"source":"Rainfall","series":"Bayesian_4","x":-7.91,"y":-37.4},
{"source":"Rainfall","series":"Bayesian_4","x":-5.32,"y":-37.4},
{"source":"Rainfall","series":"Bayesian_4","x":-8.28,"y":-37.4},
{"source":"Rainfall","series":"Bayesian_4","x":-4.95,"y":-37.4},
{"source":"Rainfall","series":"Bayesian_4","x":-8.65,"y":-37.4},
{"source":"Rainfall","series":"Bayesian_4","x":-6.8,"y":-46.6},
{"source":"Rainfall","series":"Bayesian_4","x":-6.43,"y":-46.6},
{"source":"Rainfall","series":"Bayesian_4","x":-7.17,"y":-46.6},
{"source":"Rainfall","series":"Bayesian_4","x":-6.06,"y":-46.6},
{"source":"Rainfall","series":"Bayesian_4","x":-7.54,"y":-46.6},
{"source":"Rainfall","series":"Bayesian_4","x":-5.69,"y":-46.6},
{"source":"Rainfall","series":"Bayesian_4","x":-7.91,"y":-46.6},
{"source":"Rainfall","series":"Bayesian_4","x":-5.32,"y":-46.6},
{"source":"Rainfall","series":"Bayesian_4","x":-8.28,"y":-46.6},
{"source":"Rainfall","series":"Bayesian_4","x":-4.95,"y":-46.6},
{"source":"Rainfall","series":"Bayesian_4","x":-8.65,"y":-46.6},
{"source":"Rainfall","series":"Bayesian_4","x":-6.62,"y":-35.1},
{"source":"Rainfall","series":"Bayesian_4","x":-6.98,"y":-35.1},
{"source":"Rainfall","series":"Bayesian_4","x":-6.25,"y":-35.1},
{"source":"Rainfall","series":"Bayesian_4","x":-7.36,"y":-35.1},
{"source":"Rainfall","series":"Bayesian_4","x":-5.88,"y":-35.1},
{"source":"Rainfall","series":"Bayesian_4","x":-7.73,"y":-35.1},
{"source":"Rainfall","series":"Bayesian_4","x":-5.51,"y":-35.1},
{"source":"Rainfall","series":"Bayesian_4","x":-8.1,"y":-35.1},
{"source":"Rainfall","series":"Bayesian_4","x":-5.14,"y":-35.1},
{"source":"Rainfall","series":"Bayesian_4","x":-8.47,"y":-35.1},
{"source":"Rainfall","series":"Bayesian_4","x":-6.62,"y":-48.9},
{"source":"Rainfall","series":"Bayesian_4","x":-6.98,"y":-48.9},
{"source":"Rainfall","series":"Bayesian_4","x":-6.25,"y":-48.9},
{"source":"Rainfall","series":"Bayesian_4","x":-7.36,"y":-48.9},
{"source":"Rainfall","series":"Bayesian_4","x":-5.88,"y":-48.9},
{"source":"Rainfall","series":"Bayesian_4","x":-7.73,"y":-48.9},
{"source":"Rainfall","series":"Bayesian_4","x":-5.51,"y":-48.9},
{"source":"Rainfall","series":"Bayesian_4","x":-8.1,"y":-48.9},
{"source":"Rainfall","series":"Bayesian_4","x":-5.14,"y":-48.9},
{"source":"Rainfall","series":"Bayesian_4","x":-8.47,"y":-48.9},
{"source":"Rainfall","series":"Bayesian_4","x":-6.8,"y":-32.8},
{"source":"Rainfall","series":"Bayesian_4","x":-6.43,"y":-32.8},
{"source":"Rainfall","series":"Bayesian_4","x":-7.17,"y":-32.8},
{"source":"Rainfall","series":"Bayesian_4","x":-6.06,"y":-32.8},
{"source":"Rainfall","series":"Bayesian_4","x":-7.54,"y":-32.8},
{"source":"Rainfall","series":"Bayesian_4","x":-5.69,"y":-32.8},
{"source":"Rainfall","series":"Bayesian_4","x":-7.91,"y":-32.8},
{"source":"Rainfall","series":"Bayesian_4","x":-5.32,"y":-32.8},
{"source":"Rainfall","series":"Bayesian_4","x":-8.28,"y":-32.8},
{"source":"Rainfall","series":"Bayesian_4","x":-6.8,"y":-51.2},
{"source":"Rainfall","series":"Bayesian_4","x":-6.43,"y":-51.2},
{"source":"Rainfall","series":"Bayesian_4","x":-7.17,"y":-51.2},
{"source":"Rainfall","series":"Bayesian_4","x":-6.06,"y":-51.2},
{"source":"Rainfall","series":"Bayesian_4","x":-7.54,"y":-51.2},
{"source":"Rainfall","series":"Bayesian_4","x":-5.69,"y":-51.2},
{"source":"Rainfall","series":"Bayesian_4","x":-7.91,"y":-51.2},
{"source":"Rainfall","series":"Bayesian_4","x":-5.32,"y":-51.2},
{"source":"Rainfall","series":"Bayesian_4","x":-8.28,"y":-51.2},
{"source":"Rainfall","series":"Bayesian_4","x":-6.62,"y":-30.5},
{"source":"Rainfall","series":"Bayesian_4","x":-6.98,"y":-30.5},
{"source":"Rainfall","series":"Bayesian_4","x":-6.25,"y":-30.5},
{"source":"Rainfall","series":"Bayesian_4","x":-7.36,"y":-30.5},
{"source":"Rainfall","series":"Bayesian_4","x":-5.88,"y":-30.5},
{"source":"Rainfall","series":"Bayesian_4","x":-7.73,"y":-30.5},
{"source":"Rainfall","series":"Bayesian_4","x":-5.51,"y":-30.5},
{"source":"Rainfall","series":"Bayesian_4","x":-8.1,"y":-30.5},
{"source":"Rainfall","series":"Bayesian_4","x":-6.62,"y":-53.5},
{"source":"Rainfall","series":"Bayesian_4","x":-6.98,"y":-53.5},
{"source":"Rainfall","series":"Bayesian_4","x":-6.25,"y":-53.5},
{"source":"Rainfall","series":"Bayesian_4","x":-7.36,"y":-53.5},
{"source":"Rainfall","series":"Bayesian_4","x":-5.88,"y":-53.5},
{"source":"Rainfall","series":"Bayesian_4","x":-7.73,"y":-53.5},
{"source":"Rainfall","series":"Bayesian_4","x":-5.51,"y":-53.5},
{"source":"Rainfall","series":"Bayesian_4","x":-8.1,"y":-53.5},
{"source":"Rainfall","series":"Bayesian_4","x":-6.8,"y":-28.2},
{"source":"Rainfall","series":"Bayesian_4","x":-6.43,"y":-28.2},
{"source":"Rainfall","series":"Bayesian_4","x":-7.17,"y":-28.2},
{"source":"Rainfall","series":"Bayesian_4","x":-6.06,"y":-28.2},
{"source":"Rainfall","series":"Bayesian_4","x":-7.54,"y":-28.2},
{"source":"Rainfall","series":"Bayesian_4","x":-6.8,"y":-55.8},
{"source":"Rainfall","series":"Bayesian_4","x":-6.43,"y":-55.8},
{"source":"Rainfall","series":"Bayesian_4","x":-7.17,"y":-55.8},
{"source":"Rainfall","series":"Bayesian_4","x":-6.06,"y":-55.8},
{"source":"Rainfall","series":"Bayesian_4","x":-7.54,"y":-55.8},
{"source":"Rainfall","series":"Bayesian_4","x":-6.4,"y":-66},
{"source":"Rainfall","series":"Bayesian_4","x":-5.78,"y":-65.4},
{"source":"Rainfall","series":"Bayesian_4","x":-9.6,"y":-48.6},
{"source":"Rainfall","series":"Bayesian_4","x":-7.3,"y":-24.6},
{"source":"Rainfall","series":"Bayesian_4","x":-4.3,"y":-30.5},
{"source":"Rainfall","series":"Bayesian_4","x":-4.7,"y":-34.4},
{"source":"Rainfall","series":"Bayesian_4","x":-4.15,"y":-43.3},
{"source":"Rainfall","series":"Bayesian_4","x":-4.56,"y":-53.8},
{"source":"Rainfall","series":"Bayesian_4","x":-6.4,"y":-59.1},
{"source":"Rainfall","series":"Bayesian_4","x":-7.63,"y":-58.5},
{"source":"Rainfall","series":"Bayesian_4","x":-8.31,"y":-54.2},
{"source":"Rainfall","series":"Bayesian_4","x":-8.86,"y":-44.3},
{"source":"Rainfall","series":"Bayesian_4","x":-8.58,"y":-33.4},
{"source":"Rainfall","series":"Bayesian_4","x":-7.77,"y":-29.5},
{"source":"Rainfall","series":"Bayesian_4","x":-5.86,"y":-25.6},
{"source":"Stream water","series":"Bayesian_4","x":-11.72,"y":-76.8},
{"source":"Stream water","series":"Bayesian_4","x":-11.86,"y":-76.8},
{"source":"Stream water","series":"Bayesian_4","x":-11.58,"y":-76.8},
{"source":"Groundwater","row":"top","note":"Corrcoef_Bayesian_4_Cor=0.93\nCorrcoef_Measurment=0.95","tag":"(a)"},
{"source":"Snowmelt","row":"top","note":"Corrcoef_Bayesian_4_Cor=0.97\nCorrcoef_Measurment=0.97","tag":"(b)"},
{"source":"Glacier melt","row":"top","note":"Corrcoef_Bayesian_4_Cor=0.96\nCorrcoef_Measurment=0.99","tag":"(c)"},
{"source":"Rainfall","row":"top","note":"Corrcoef_Bayesian_4_Cor=0.96\nCorrcoef_Measurment=0.96","tag":"(d)"},
{"source":"Stream water","row":"top","note":"Corrcoef_Bayesian_4_Cor=0.82\nCorrcoef_Measurment=0.80","tag":"(e)"},
{"source":"Groundwater","row":"bottom","note":"Corrcoef_Bayesian_4=0.06","tag":"(f)"},
{"source":"Snowmelt","row":"bottom","note":"Corrcoef_Bayesian_4=0.15","tag":"(g)"},
{"source":"Glacier melt","row":"bottom","note":"Corrcoef_Bayesian_4=0.20","tag":"(h)"},
{"source":"Rainfall","row":"bottom","note":"Corrcoef_Bayesian_4=0.10","tag":"(i)"},
{"source":"Stream water","row":"bottom","note":"Corrcoef_Bayesian_4=0.09","tag":"(j)"}
]},
"spacing":-2,
"vconcat":[
{
"data":{"name":"d"},
"transform":[{"filter":"datum.row === 'top' || datum.series === 'Bayesian_4_Cor' || datum.series === 'Measurement'"}],
"facet":{"column":{"field":"source","type":"nominal","sort":["Groundwater","Snowmelt","Glacier melt","Rainfall","Stream water"],"title":null,"header":{"labelFontSize":20,"labelFontWeight":"bold","labelColor":"#000000","labelPadding":6}}},
"spacing":14,
"bounds":"flush",
"spec":{
"width":230,"height":209,
"layer":[
{"transform":[{"filter":"isValid(datum.note)"}],"mark":{"type":"text","align":"left","baseline":"top","fontSize":14.5,"fontWeight":"bold","lineHeight":17,"lineBreak":"\n","dx":4,"dy":8,"color":"#262626"},
"encoding":{"x":{"datum":-17.2,"type":"quantitative","axis":{"values":[-15,-10,-5,0],"labels":false,"title":null,"labelPadding":0}},"y":{"datum":3.6,"type":"quantitative","axis":{"values":[-120,-100,-80,-60,-40,-20,0],"title":"δ²H (‰)","labelExpr":"replace(datum.label,'−','-')"}},"text":{"field":"note"}}},
{"transform":[{"filter":"isValid(datum.tag)"}],"mark":{"type":"text","align":"right","baseline":"alphabetic","fontSize":22,"fontWeight":"bold","dx":-7,"dy":-15,"color":"#000000"},
"encoding":{"x":{"datum":1.6,"type":"quantitative","axis":{"values":[-15,-10,-5,0],"labels":false,"title":null,"labelPadding":0}},"y":{"datum":-120,"type":"quantitative","axis":{"values":[-120,-100,-80,-60,-40,-20,0],"title":"δ²H (‰)","labelExpr":"replace(datum.label,'−','-')"}},"text":{"field":"tag"}}},
{"transform":[{"filter":"isValid(datum.series)"}],"mark":{"type":"circle","size":22,"opacity":1},
"encoding":{
"x":{"field":"x","type":"quantitative","scale":{"domain":[-17.2,1.6],"nice":false,"zero":false},"axis":{"values":[-15,-10,-5,0],"labels":false,"title":null,"labelPadding":0}},
"y":{"field":"y","type":"quantitative","scale":{"domain":[-120,3.6],"nice":false,"zero":false},"axis":{"values":[-120,-100,-80,-60,-40,-20,0],"title":"δ²H (‰)","labelExpr":"replace(datum.label,'−','-')"}},
"color":{"field":"series","type":"nominal","scale":{"domain":["Bayesian_4_Cor","Measurement","Bayesian_4"],"range":["#D95319","#1E9EF7","#64D214"]},"legend":{"orient":"none","legendX":339,"legendY":-58,"direction":"horizontal","title":null,"labelFontSize":20.6,"labelFontWeight":"bold","labelColor":"#000000","labelLimit":400,"symbolType":"circle","symbolSize":100,"symbolStrokeWidth":0,"symbolOpacity":1,"labelOffset":16,"columnPadding":10}}
}}
]}
},
{
"data":{"name":"d"},
"transform":[{"filter":"datum.row === 'bottom' || datum.series === 'Bayesian_4'"}],
"facet":{"column":{"field":"source","type":"nominal","sort":["Groundwater","Snowmelt","Glacier melt","Rainfall","Stream water"],"title":null,"header":{"labels":false}}},
"spacing":14,
"bounds":"flush",
"spec":{
"width":230,"height":209,
"layer":[
{"transform":[{"filter":"isValid(datum.note)"}],"mark":{"type":"text","align":"left","baseline":"top","fontSize":14.5,"fontWeight":"bold","lineHeight":17,"lineBreak":"\n","dx":4,"dy":8,"color":"#262626"},
"encoding":{"x":{"datum":-17.2,"type":"quantitative","axis":{"values":[-15,-10,-5,0],"title":"δ¹⁸O (‰)","labelExpr":"replace(datum.label,'−','-')"}},"y":{"datum":3.6,"type":"quantitative","axis":{"values":[-120,-100,-80,-60,-40,-20,0],"title":"δ²H (‰)","labelExpr":"replace(datum.label,'−','-')"}},"text":{"field":"note"}}},
{"transform":[{"filter":"isValid(datum.tag)"}],"mark":{"type":"text","align":"right","baseline":"alphabetic","fontSize":22,"fontWeight":"bold","dx":-7,"dy":-15,"color":"#000000"},
"encoding":{"x":{"datum":1.6,"type":"quantitative","axis":{"values":[-15,-10,-5,0],"title":"δ¹⁸O (‰)","labelExpr":"replace(datum.label,'−','-')"}},"y":{"datum":-120,"type":"quantitative","axis":{"values":[-120,-100,-80,-60,-40,-20,0],"title":"δ²H (‰)","labelExpr":"replace(datum.label,'−','-')"}},"text":{"field":"tag"}}},
{"transform":[{"filter":"isValid(datum.series)"}],"mark":{"type":"circle","size":30,"opacity":1},
"encoding":{
"x":{"field":"x","type":"quantitative","scale":{"domain":[-17.2,1.6],"nice":false,"zero":false},"axis":{"values":[-15,-10,-5,0],"title":"δ¹⁸O (‰)","labelExpr":"replace(datum.label,'−','-')"}},
"y":{"field":"y","type":"quantitative","scale":{"domain":[-120,3.6],"nice":false,"zero":false},"axis":{"values":[-120,-100,-80,-60,-40,-20,0],"title":"δ²H (‰)","labelExpr":"replace(datum.label,'−','-')"}},
"color":{"field":"series","type":"nominal","scale":{"domain":["Bayesian_4_Cor","Measurement","Bayesian_4"],"range":["#D95319","#1E9EF7","#64D214"]},"legend":{"orient":"none","legendX":339,"legendY":-58,"direction":"horizontal","title":null,"labelFontSize":20.6,"labelFontWeight":"bold","labelColor":"#000000","labelLimit":400,"symbolType":"circle","symbolSize":100,"symbolStrokeWidth":0,"symbolOpacity":1,"labelOffset":16,"columnPadding":10}}
}}
]}
}
]
}
